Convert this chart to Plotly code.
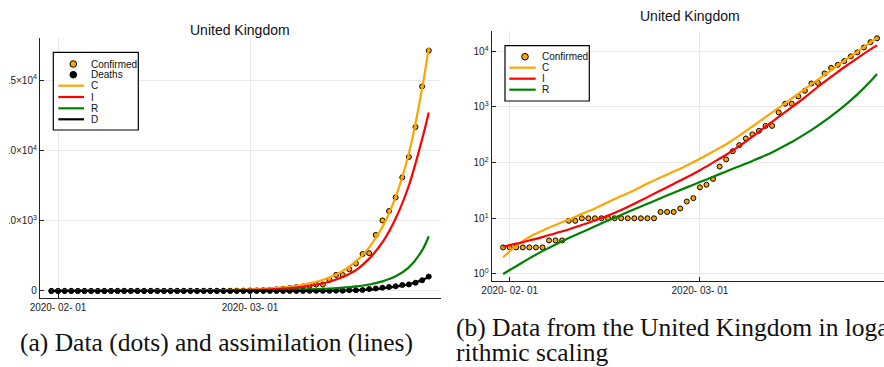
import pandas as pd
import plotly.graph_objects as go

# ---------------- data ----------------
START = pd.Timestamp("2020-01-31")

# daily reported cases (Jan 31 .. Mar 28, 2020)
confirmed = [3, 3, 3, 3, 3, 3, 3, 4, 4, 4, 9, 9,
             10, 10, 10, 10, 10, 10, 10, 10, 10, 10, 10, 10,
             13, 13, 13, 15, 20, 23,
             36, 40, 51, 85, 114, 160, 206, 271, 321, 373,
             456, 456, 798, 1140, 1140, 1543, 1950, 2626, 2689, 3983,
             5018, 5683, 6650, 8077, 9529, 11658, 14543, 17089]
deaths = [0] * 35 + [1, 2, 2, 3, 7, 7, 8, 8, 21, 21, 56, 56, 72, 138,
                     178, 234, 282, 336, 423, 466, 580, 761, 1021]

# assimilated model trajectories (day offset from Jan 31)
model_day = [0, 2, 4, 6, 8, 10, 12, 14, 16, 18, 20, 22, 24, 26, 28,
             30, 32, 34, 36, 38, 40, 42, 44, 46, 48, 50, 52, 54, 56, 57]
model_C = [2.0, 3.2, 4.6, 6.0, 7.6, 9.5, 12, 15, 19.5, 25, 32, 42, 54, 69, 89,
           117, 158, 214, 305, 445, 655, 960, 1420, 2100, 3100, 4550, 6700,
           9800, 14400, 17300]
model_I = [3.1, 3.5, 4.0, 4.6, 5.4, 6.3, 7.6, 9.1, 11.2, 14.1, 18.2, 24, 31.6,
           41.5, 54.5, 73, 100, 138, 198, 293, 440, 660, 990, 1480, 2300,
           3450, 5150, 7500, 10800, 12700]
model_R = [1.0, 1.38, 1.91, 2.57, 3.39, 4.42, 5.62, 7.16, 9.12, 11.5, 14.5,
           18.2, 22.9, 28.8, 35.9, 44.7, 55.6, 69.2, 86.1, 107, 135, 176, 234,
           324, 462, 684, 1047, 1679, 2884, 3890]
model_D = [0] * 16 + [0.5, 1, 2, 4, 8, 15, 28, 50, 90, 190, 310, 480, 770, 1000]

date_ticks = ["2020-02-01", "2020-03-01"]
date_tick_text = ["2020- 02- 01", "2020- 03- 01"]
lin_ticks = [0, 5000, 10000, 15000]
lin_tick_text = ["0", "5.0×10<sup>3</sup>", "1.0×10<sup>4</sup>", "1.5×10<sup>4</sup>"]
log_ticks = [1, 10, 100, 1000, 10000]
log_tick_text = ["10<sup>0</sup>", "10<sup>1</sup>", "10<sup>2</sup>", "10<sup>3</sup>", "10<sup>4</sup>"]

title_text = "United Kingdom"
caption_a = "(a) Data (dots) and assimilation (lines)"
caption_b1 = "(b) Data from the United Kingdom in loga-"
caption_b2 = "rithmic scaling"

# ---------------- styling ----------------
W, H = 884, 367
ORANGE, RED, GREEN, BLACK = "#FFA500", "#FF0000", "#008000", "#000000"
SANS = "Liberation Sans, Arial, sans-serif"
SERIF = "Liberation Serif, Times New Roman, serif"
GRID = "#e8e8e8"

obs_dates = [START + pd.Timedelta(days=i) for i in range(len(confirmed))]
mod_dates = [START + pd.Timedelta(days=d) for d in model_day]


def px(x):
    return x / W


def py(y):
    return (H - y) / H


fig = go.Figure()

marker_conf = dict(size=5, color=ORANGE, line=dict(color=BLACK, width=1))
marker_death = dict(size=5, color=BLACK, line=dict(color=BLACK, width=1))

# left panel: linear scale
fig.add_trace(go.Scatter(x=obs_dates, y=confirmed, mode="markers", marker=marker_conf,
                         name="Confirmed", xaxis="x", yaxis="y"))
fig.add_trace(go.Scatter(x=obs_dates, y=deaths, mode="markers", marker=marker_death,
                         name="Deaths", xaxis="x", yaxis="y"))
for ys, col, nm in [(model_C, ORANGE, "C"), (model_I, RED, "I"),
                    (model_R, GREEN, "R"), (model_D, BLACK, "D")]:
    fig.add_trace(go.Scatter(x=mod_dates, y=ys, mode="lines", name=nm,
                             line=dict(color=col, width=2.2, shape="spline"),
                             xaxis="x", yaxis="y"))

# right panel: log scale
fig.add_trace(go.Scatter(x=obs_dates, y=confirmed, mode="markers", marker=marker_conf,
                         name="Confirmed", xaxis="x2", yaxis="y2"))
for ys, col, nm in [(model_C, ORANGE, "C"), (model_I, RED, "I"), (model_R, GREEN, "R")]:
    fig.add_trace(go.Scatter(x=mod_dates, y=ys, mode="lines", name=nm,
                             line=dict(color=col, width=2.2, shape="spline"),
                             xaxis="x2", yaxis="y2"))

axis_common = dict(showgrid=True, gridcolor=GRID, gridwidth=1, zeroline=False,
                   showline=True, linecolor="#222", linewidth=1.2,
                   ticks="inside", ticklen=4, tickcolor="#222", automargin=False,
                   tickfont=dict(family=SANS, size=10, color="#222"))

fig.update_layout(
    template="none",
    width=W, height=H, margin=dict(l=0, r=0, t=0, b=0, pad=0, autoexpand=False),
    paper_bgcolor="white", plot_bgcolor="white", showlegend=False,
    xaxis=dict(domain=[px(40), px(441)], anchor="y",
               range=["2020-01-29 06:43", "2020-03-29 20:24"],
               tickvals=date_ticks, ticktext=date_tick_text, **axis_common),
    yaxis=dict(domain=[py(298), py(38)], anchor="x", range=[-500, 17990],
               tickvals=lin_ticks, ticktext=lin_tick_text, **axis_common),
    xaxis2=dict(domain=[px(491.7), 1.0], anchor="y2",
                range=["2020-01-29 06:14", "2020-03-29 01:26"],
                tickvals=date_ticks, ticktext=date_tick_text, **axis_common),
    yaxis2=dict(domain=[py(281), py(30.7)], anchor="x2", type="log",
                range=[-0.126, 4.368],
                tickvals=log_ticks, ticktext=log_tick_text, **axis_common),
)

CAP = 25.5
annotations = [
    dict(x=px(240.5), y=py(29.5), text=title_text, xanchor="center",
         font=dict(family=SANS, size=14, color="#111")),
    dict(x=px(690), y=py(16), text=title_text, xanchor="center",
         font=dict(family=SANS, size=14, color="#111")),
    dict(x=px(216), y=py(342), text=caption_a, xanchor="center",
         font=dict(family=SERIF, size=CAP, color="#111")),
    dict(x=px(454), y=py(327), text=caption_b1, xanchor="left",
         font=dict(family=SERIF, size=CAP, color="#111")),
    dict(x=px(454), y=py(352), text=caption_b2, xanchor="left",
         font=dict(family=SERIF, size=CAP, color="#111")),
]
shapes = []


def add_legend(box, entries, mark_x, line_x0, line_x1, text_x):
    x0, y0, x1, y1 = box
    shapes.append(dict(type="rect", xref="paper", yref="paper",
                       x0=px(x0), x1=px(x1), y0=py(y1), y1=py(y0),
                       line=dict(color=BLACK, width=1.2), fillcolor="white", layer="above"))
    for kind, col, label, yy in entries:
        if kind == "marker":
            r = 3.3
            shapes.append(dict(type="circle", xref="paper", yref="paper",
                               x0=px(mark_x - r), x1=px(mark_x + r),
                               y0=py(yy + r), y1=py(yy - r), fillcolor=col,
                               line=dict(color=BLACK, width=1), layer="above"))
        else:
            shapes.append(dict(type="line", xref="paper", yref="paper",
                               x0=px(line_x0), x1=px(line_x1), y0=py(yy), y1=py(yy),
                               line=dict(color=col, width=2.2), layer="above"))
        annotations.append(dict(x=px(text_x), y=py(yy), text=label, xanchor="left",
                                font=dict(family=SANS, size=10, color="#111")))


add_legend((53.3, 52.3, 138.3, 130),
           [("marker", ORANGE, "Confirmed", 64), ("marker", BLACK, "Deaths", 74.7),
            ("line", ORANGE, "C", 85.7), ("line", RED, "I", 97),
            ("line", GREEN, "R", 108.3), ("line", BLACK, "D", 119.3)],
           73.3, 58.3, 84, 88.5)
add_legend((505, 45.7, 589.3, 101),
           [("marker", ORANGE, "Confirmed", 56.7), ("line", ORANGE, "C", 67.7),
            ("line", RED, "I", 78.7), ("line", GREEN, "R", 89.7)],
           525, 509.3, 535.7, 540)

# the left panel is trimmed by the page margin
shapes.append(dict(type="rect", xref="paper", yref="paper", x0=0, x1=px(9),
                   y0=py(300), y1=1, fillcolor="white", line=dict(width=0), layer="above"))

for a in annotations:
    a.setdefault("xref", "paper")
    a.setdefault("yref", "paper")
    a.setdefault("showarrow", False)
    a.setdefault("yanchor", "middle")

fig.update_layout(annotations=annotations, shapes=shapes)
fig.write_html("out.html")
